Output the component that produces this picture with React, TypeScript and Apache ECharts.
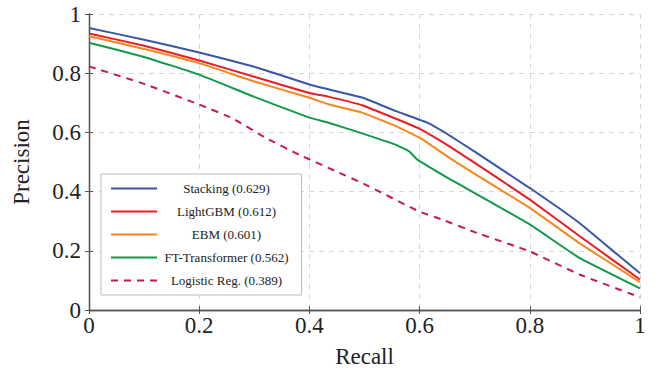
import { useEffect, useRef } from "react";
import * as echarts from "echarts";

const xTicks = [0, 0.2, 0.4, 0.6, 0.8, 1];
const yTicks = [0, 0.2, 0.4, 0.6, 0.8, 1];

const seriesNames = [
  "Stacking (0.629)",
  "LightGBM (0.612)",
  "EBM (0.601)",
  "FT-Transformer (0.562)",
  "Logistic Reg. (0.389)",
];
const seriesColors = ["#3a57a7", "#ec1c24", "#f7861e", "#13994a", "#c81a4c"];

const stackingRecall = [0, 0.1, 0.2, 0.3, 0.4, 0.436, 0.497, 0.557, 0.615, 0.654, 0.7, 0.8, 0.89, 0.945, 1.0];
const stackingPrecision = [0.953, 0.913, 0.87, 0.822, 0.762, 0.745, 0.717, 0.672, 0.632, 0.59, 0.535, 0.412, 0.294, 0.209, 0.124];

const lightgbmRecall = [0, 0.1, 0.2, 0.3, 0.4, 0.436, 0.497, 0.557, 0.6, 0.654, 0.7, 0.8, 0.89, 1.0];
const lightgbmPrecision = [0.934, 0.893, 0.843, 0.788, 0.733, 0.72, 0.691, 0.646, 0.612, 0.553, 0.497, 0.373, 0.25, 0.103];

const ebmRecall = [0, 0.1, 0.2, 0.3, 0.4, 0.436, 0.497, 0.557, 0.6, 0.654, 0.7, 0.8, 0.89, 1.0];
const ebmPrecision = [0.925, 0.882, 0.834, 0.772, 0.717, 0.694, 0.666, 0.621, 0.582, 0.514, 0.46, 0.345, 0.226, 0.094];

const ftRecall = [0, 0.1, 0.2, 0.3, 0.4, 0.436, 0.49, 0.557, 0.581, 0.596, 0.654, 0.7, 0.8, 0.89, 1.0];
const ftPrecision = [0.903, 0.855, 0.795, 0.72, 0.65, 0.632, 0.6, 0.558, 0.536, 0.508, 0.443, 0.395, 0.289, 0.176, 0.073];

const logregRecall = [0, 0.1, 0.2, 0.26, 0.322, 0.382, 0.449, 0.5, 0.6, 0.64, 0.7, 0.8, 0.89, 1.0];
const logregPrecision = [0.823, 0.764, 0.694, 0.648, 0.58, 0.524, 0.468, 0.425, 0.332, 0.306, 0.263, 0.198, 0.12, 0.043];

const allRecall = [stackingRecall, lightgbmRecall, ebmRecall, ftRecall, logregRecall];
const allPrecision = [stackingPrecision, lightgbmPrecision, ebmPrecision, ftPrecision, logregPrecision];

const FONT = "Liberation Serif";

export default function App() {
  const ref = useRef<HTMLDivElement>(null);
  useEffect(() => {
    if (!ref.current) return;
    const chart = echarts.init(ref.current, undefined, { renderer: "svg" });
    const frameColor = "#555555";
    const labelStyle = { fontFamily: FONT, fontSize: 23, color: "#222222" };
    const series = seriesNames.map((name, i) => ({
      name,
      type: "line",
      xAxisIndex: 0,
      yAxisIndex: 0,
      data: allRecall[i].map((r, j) => [r, allPrecision[i][j]]),
      showSymbol: false,
      symbol: "none",
      smooth: 0.1,
      lineStyle: {
        color: seriesColors[i],
        width: 2,
        type: i === 4 ? [7, 6] : "solid",
      },
      itemStyle: { color: seriesColors[i] },
      z: 10 - i,
    }));
    chart.setOption({
      animation: false,
      backgroundColor: "#ffffff",
      grid: { left: 89, right: 19, top: 14, bottom: 63, containLabel: false },
      xAxis: [
        {
          type: "value",
          min: 0,
          max: 1,
          interval: 0.2,
          position: "bottom",
          name: "Recall",
          nameLocation: "middle",
          nameGap: 35,
          nameTextStyle: { ...labelStyle },
          axisLine: { show: true, lineStyle: { color: frameColor, width: 1.3 } },
          axisTick: { show: true, inside: true, length: 4, lineStyle: { color: frameColor } },
          axisLabel: { ...labelStyle, margin: 4, formatter: (v: number) => String(v) },
          splitLine: { show: true, lineStyle: { color: "#d6d6d6", type: [5, 5], width: 1 } },
        },
        {
          type: "value",
          min: 0,
          max: 1,
          interval: 0.2,
          position: "top",
          axisLine: { show: true, lineStyle: { color: frameColor, width: 1.3 } },
          axisTick: { show: true, inside: true, length: 4, lineStyle: { color: frameColor } },
          axisLabel: { show: false },
          splitLine: { show: false },
        },
      ],
      yAxis: [
        {
          type: "value",
          min: 0,
          max: 1,
          interval: 0.2,
          position: "left",
          name: "Precision",
          nameLocation: "middle",
          nameGap: 56,
          nameRotate: 90,
          nameTextStyle: { ...labelStyle },
          axisLine: { show: true, lineStyle: { color: frameColor, width: 1.3 } },
          axisTick: { show: true, inside: true, length: 4, lineStyle: { color: frameColor } },
          axisLabel: { ...labelStyle, margin: 8, formatter: (v: number) => String(v) },
          splitLine: { show: true, lineStyle: { color: "#d6d6d6", type: [5, 5], width: 1 } },
        },
        {
          type: "value",
          min: 0,
          max: 1,
          interval: 0.2,
          position: "right",
          axisLine: { show: true, lineStyle: { color: frameColor, width: 1.3 } },
          axisTick: { show: true, inside: true, length: 4, lineStyle: { color: frameColor } },
          axisLabel: { show: false },
          splitLine: { show: false },
        },
      ],
      legend: {
        data: seriesNames,
        orient: "vertical",
        left: 101,
        top: 174,
        itemWidth: 46,
        itemHeight: 14,
        itemGap: 10,
        padding: [8, 13, 8, 9],
        backgroundColor: "#ffffff",
        borderColor: "#bdbdbd",
        borderWidth: 1,
        borderRadius: 0,
        itemStyle: { opacity: 0 },
        formatter: (name: string) => `{t|${name}}`,
        textStyle: {
          fontFamily: FONT,
          fontSize: 13,
          color: "#222222",
          rich: {
            t: { width: 129, align: "center", fontFamily: FONT, fontSize: 13, color: "#222222" },
          },
        },
      },
      series,
    });
    return () => chart.dispose();
  }, []);
  return (
    <div
      ref={ref}
      style={{ position: "fixed", left: 0, top: 0, width: 659, height: 373 }}
    />
  );
}
